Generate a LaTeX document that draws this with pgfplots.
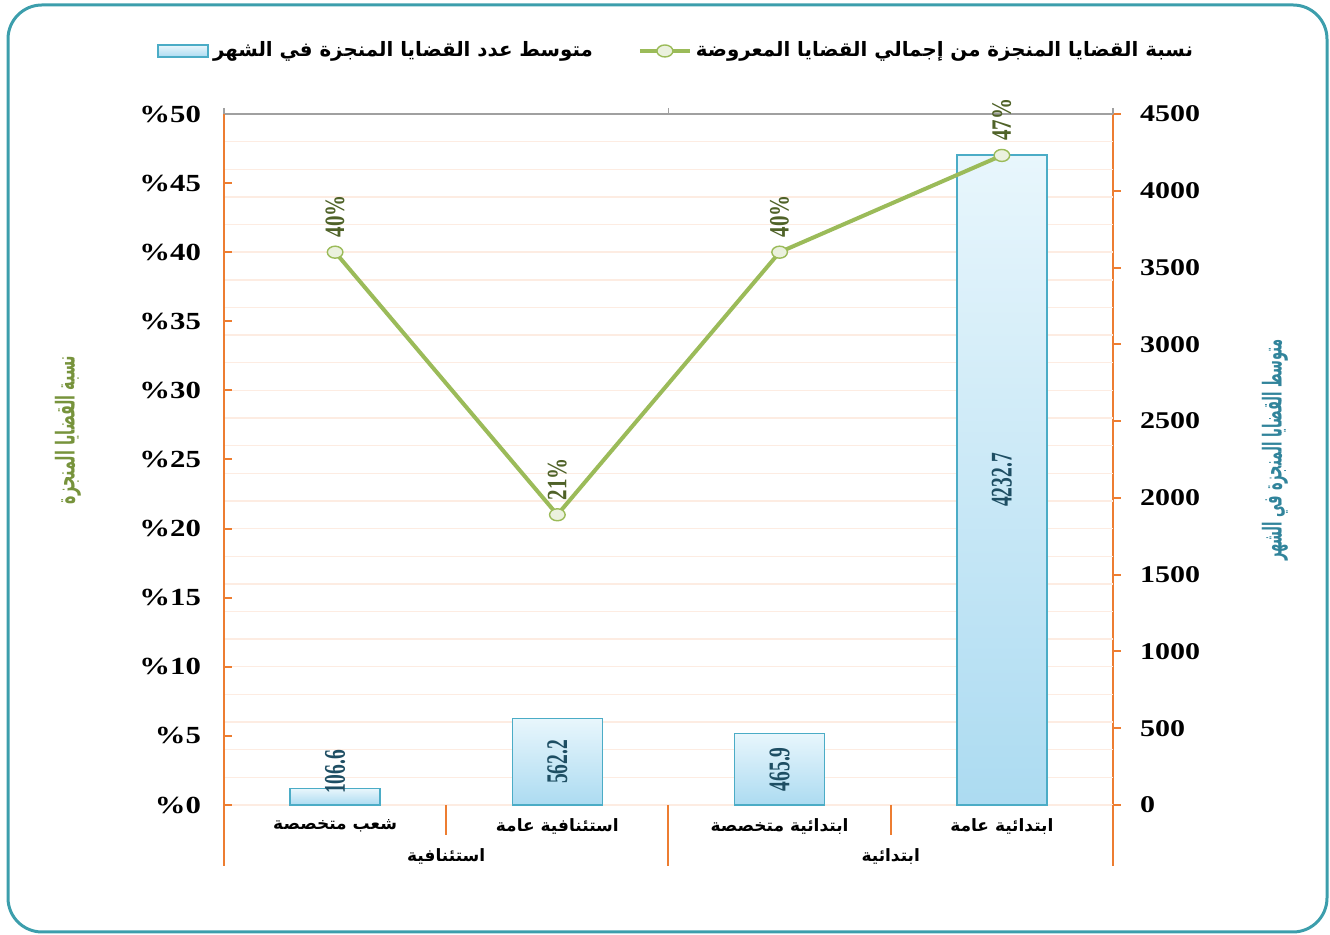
\documentclass[border=0pt]{standalone}
\usepackage{pgfplots}
\pgfplotsset{compat=1.18}
\usepackage{pgfplotstable}
\usepackage{fontspec}
\setmainfont{Liberation Serif}
\newfontfamily\ar[Script=Arabic]{DejaVu Sans}
\newfontfamily\arcl[Script=Arabic,FakeStretch=0.55]{DejaVu Sans}
\newfontfamily\arcr[Script=Arabic,FakeStretch=0.5]{DejaVu Sans}
\newfontfamily\tickf[FakeStretch=1.25]{Liberation Serif}
\newfontfamily\barf[FakeStretch=0.65]{Liberation Serif}
\newfontfamily\ptf[FakeStretch=0.75]{Liberation Serif}
\TeXXeTstate=1
\definecolor{axorange}{RGB}{237,125,49}
\definecolor{gridc}{RGB}{253,236,226}
\definecolor{lineg}{RGB}{155,187,89}
\definecolor{markf}{RGB}{235,241,222}
\definecolor{ptlab}{RGB}{79,98,40}
\definecolor{barlab}{RGB}{30,78,99}
\definecolor{bartop}{RGB}{232,246,252}
\definecolor{barbot}{RGB}{172,219,241}
\definecolor{baredge}{RGB}{75,172,198}
\definecolor{framec}{RGB}{60,158,172}
\definecolor{lefttitle}{RGB}{119,147,60}
\definecolor{righttitle}{RGB}{49,132,155}
\definecolor{topgray}{RGB}{160,160,160}

\pgfplotstableread{
x ylab lab
0 215 106.6
1 281.1 562.2
2 232.95 465.9
3 2116.35 4232.7
}\barlabels
\pgfplotstableread{
x p
0 40
1 21
2 40
3 47
}\pct

\pgfplotsset{barstyle/.style={ybar, bar shift=0pt, bar width=0.405, draw=baredge, line width=0.8pt, top color=bartop, bottom color=barbot}}

\begin{document}
\begin{tikzpicture}[x=1pt,y=1pt]
\useasboundingbox (0,0) rectangle (665,467.5);
\draw[framec, line width=1.5pt, rounded corners=17pt] (4,1.5) rectangle (663.5,465);
% ---------- bars (right axis) ----------
\begin{axis}[
  at={(112pt,65pt)}, anchor=south west, scale only axis,
  width=444.5pt, height=345.5pt,
  xmin=-0.5, xmax=3.5, ymin=0, ymax=4500,
  axis y line*=right, axis x line*=bottom,
  axis line style={axorange, line width=1pt},
  ytick={0,500,...,4500},
  yticklabels={0,500,1000,1500,2000,2500,3000,3500,4000,4500},
  ytick align=outside, major tick length=4pt,
  major y tick style={axorange, line width=1pt},
  yticklabel style={font=\tickf\bfseries\fontsize{12}{13}\selectfont, xshift=6pt},
  extra y ticks={0,180,...,4500},
  extra y tick labels={},
  extra y tick style={ymajorgrids=true, major tick length=0pt, major grid style={gridc, line width=0.7pt}},
  xtick={0,1,2,3},
  xticklabels={{\ar\bfseries\beginR شعب متخصصة\endR},{\ar\bfseries\beginR استئنافية عامة\endR},{\ar\bfseries\beginR ابتدائية متخصصة\endR},{\ar\bfseries\beginR ابتدائية عامة\endR}},
  major x tick style={draw=none},
  xticklabel style={font=\ar\bfseries\fontsize{8.5}{10}\selectfont, yshift=-3.5pt},
  ylabel={\arcr\bfseries\beginR متوسط القضايا المنجزة في الشهر\endR},
  ylabel style={at={(axis description cs:1.1822,0.5137)}, anchor=center, font=\arcr\bfseries\fontsize{13}{14}\selectfont, text=righttitle},
  clip=false,
]
\addplot[barstyle] coordinates {(0,106.6)};
\addplot[barstyle] coordinates {(1,562.2)};
\addplot[barstyle] coordinates {(2,465.9)};
\addplot[barstyle] coordinates {(3,4232.7)};
\addplot[draw=none, mark=none, nodes near coords, point meta=explicit symbolic,
  every node near coord/.append style={rotate=90, anchor=center, text=barlab, font=\barf\bfseries\fontsize{15}{16}\selectfont}]
  table[x=x,y=ylab,meta=lab]{\barlabels};
\end{axis}
% ---------- category group separators ----------
\begin{axis}[
  at={(112pt,65pt)}, anchor=south west, scale only axis,
  width=444.5pt, height=345.5pt,
  xmin=-0.5, xmax=3.5, ymin=0, ymax=1,
  hide y axis, axis x line*=bottom,
  x axis line style={draw=none},
  xtick={0.5,2.5},
  xticklabels={{\ar\bfseries\beginR استئنافية\endR},{\ar\bfseries\beginR ابتدائية\endR}},
  xtick align=outside, major tick length=15pt,
  major x tick style={axorange, line width=1pt},
  xticklabel style={font=\ar\bfseries\fontsize{8.5}{10}\selectfont, yshift=-3.5pt},
  extra x ticks={-0.5,1.5,3.5},
  extra x tick labels={},
  extra x tick style={major tick length=30.5pt},
]
\addplot[draw=none] coordinates {(0,0)};
\end{axis}
% ---------- line (left axis) ----------
\begin{axis}[
  at={(112pt,65pt)}, anchor=south west, scale only axis,
  width=444.5pt, height=345.5pt,
  xmin=-0.5, xmax=3.5, ymin=0, ymax=50,
  axis y line*=left, axis x line*=top,
  y axis line style={axorange, line width=1pt},
  x axis line style={topgray, line width=0.7pt},
  xtick={-0.5,1.5,3.5}, xticklabels={},
  xtick align=outside,
  major x tick style={topgray, line width=0.7pt, /pgfplots/major tick length=3pt},
  ytick={0,5,...,50},
  yticklabels={\%0,\%5,\%10,\%15,\%20,\%25,\%30,\%35,\%40,\%45,\%50},
  ytick align=inside, major tick length=4pt,
  major y tick style={axorange, line width=1pt},
  yticklabel style={font=\tickf\bfseries\fontsize{12.3}{13}\selectfont, xshift=-8pt},
  ylabel={\arcl\bfseries\beginR نسبة القضايا المنجزة\endR},
  ylabel style={at={(axis description cs:-0.1755,0.5427)}, anchor=center, font=\arcl\bfseries\fontsize{13}{14}\selectfont, text=lefttitle},
  clip=false,
  legend style={at={(-0.0821,1.0912)}, anchor=west, draw=none, fill=none,
    font=\ar\bfseries\fontsize{9.9}{11}\selectfont,
    /tikz/every even column/.append style={column sep=20.5pt}},
  legend columns=2,
]
\addlegendimage{legend image code/.code={\draw[draw=baredge, line width=0.8pt, top color=bartop, bottom color=barbot] (0pt,-3pt) rectangle (25pt,3pt);}}
\addlegendentry{\beginR متوسط عدد القضايا المنجزة في الشهر\endR}
\addplot[lineg, line width=2pt, mark=*, mark size=3pt,
  mark options={fill=markf, draw=lineg, line width=0.7pt, xscale=1.3},
  legend image code/.code={\draw[lineg, line width=2pt] (0pt,0pt) -- (25pt,0pt); \draw[fill=markf, draw=lineg, line width=0.7pt] (12.5pt,0pt) ellipse (4pt and 3pt);},
  nodes near coords={\pgfmathprintnumber[assume math mode=true]{\pgfplotspointmeta}\%},
  point meta=y,
  every node near coord/.append style={rotate=90, anchor=west, inner xsep=7pt, text=ptlab, font=\ptf\bfseries\fontsize{14}{15}\selectfont}]
  table[x=x,y=p]{\pct};
\addlegendentry{\beginR نسبة القضايا المنجزة من إجمالي القضايا المعروضة\endR}
\end{axis}
\end{tikzpicture}
\end{document}
